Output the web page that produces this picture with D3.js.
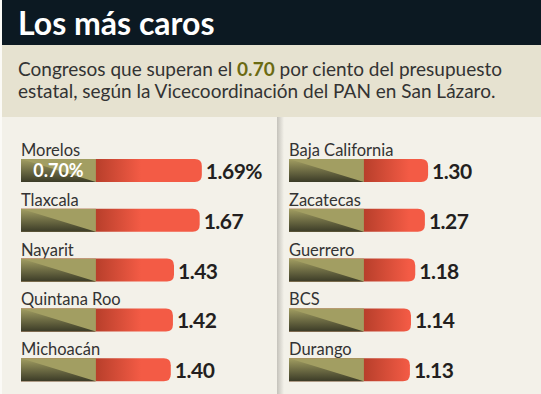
<!DOCTYPE html>
<html><head><meta charset="utf-8">
<script src="https://cdn.jsdelivr.net/npm/d3@7"></script>
<style>body{margin:0;background:#fff}svg{display:block}</style>
</head><body><svg id="c" width="541" height="394"></svg>
<script>
const title = "Los más caros";
const subtitle1a = "Congresos que superan el ", subtitleBold = "0.70", subtitle1b = " por ciento del presupuesto";
const subtitle2 = "estatal, según la Vicecoordinación del PAN en San Lázaro.";
const leftStates = ["Morelos","Tlaxcala","Nayarit","Quintana Roo","Michoacán"];
const leftValues = [1.69,1.67,1.43,1.42,1.40];
const rightStates = ["Baja California","Zacatecas","Guerrero","BCS","Durango"];
const rightValues = [1.30,1.27,1.18,1.14,1.13];
const baseline = 0.70;
const leftLabels = ["1.69%","1.67","1.43","1.42","1.40"];
const rightLabels = ["1.30","1.27","1.18","1.14","1.13"];

const svg = d3.select("#c");
const F = "Lato, 'Open Sans', sans-serif";
const defs = svg.append("defs");
const rg = defs.append("linearGradient").attr("id","red").attr("gradientUnits","userSpaceOnUse")
  .attr("x1",75).attr("x2",120).attr("y1",0).attr("y2",0);
rg.append("stop").attr("offset",0).attr("stop-color","#b83f2b");
rg.append("stop").attr("offset",1).attr("stop-color","#f35b45");
const og = defs.append("linearGradient").attr("id","dark").attr("x1",0).attr("x2",0).attr("y1",0).attr("y2",1);
og.append("stop").attr("offset",0).attr("stop-color","#a29e62");
og.append("stop").attr("offset",1).attr("stop-color","#3b3b27");
const sg = defs.append("linearGradient").attr("id","shadow");
sg.append("stop").attr("offset",0).attr("stop-color","#c4c2bb");
sg.append("stop").attr("offset",1).attr("stop-color","#f3f1e9");

// backgrounds
svg.append("rect").attr("x",0).attr("y",0).attr("width",541).attr("height",394).attr("fill","#f3f1e9");
svg.append("rect").attr("x",0).attr("y",0).attr("width",2).attr("height",394).attr("fill","#fbfaf6");
svg.append("rect").attr("x",2).attr("y",0).attr("width",539).attr("height",45).attr("fill","#0c1922");
svg.append("rect").attr("x",2).attr("y",45).attr("width",539).attr("height",72).attr("fill","#e6e2d0");
svg.append("rect").attr("x",277).attr("y",117).attr("width",7).attr("height",277).attr("fill","url(#shadow)");

svg.append("text").attr("x",18).attr("y",35).attr("fill","#fff").attr("font-family",F)
  .attr("font-weight",700).attr("font-size",32).text(title);
const st = svg.append("text").attr("x",18).attr("y",76).attr("fill","#333").attr("font-family",F).attr("font-size",19);
st.append("tspan").text(subtitle1a);
st.append("tspan").attr("font-weight",700).attr("fill","#6b6a12").text(subtitleBold);
st.append("tspan").text(subtitle1b);
svg.append("text").attr("x",18).attr("y",98).attr("fill","#333").attr("font-family",F).attr("font-size",19).text(subtitle2);

const x = d3.scaleLinear().domain([0,1]).range([0,107]);
const y = d3.scaleBand().domain(d3.range(5)).range([159,408]).paddingInner(0);
const bh = 23, r = 7;

function column(gx, states, values, labels){
  const g = svg.append("g").attr("transform",`translate(${gx},0)`);
  states.forEach((s,i)=>{
    const top = y(i), w = x(values[i]), ow = x(baseline);
    g.append("text").attr("x",0).attr("y",top-3).attr("font-family",F).attr("font-size",16.5)
      .attr("fill","#333").text(s);
    g.append("path").attr("d",`M0,${top}H${w-r}Q${w},${top} ${w},${top+r}V${top+bh-r}Q${w},${top+bh} ${w-r},${top+bh}H0Z`)
      .attr("fill","url(#red)");
    g.append("rect").attr("x",0).attr("y",top).attr("width",ow).attr("height",bh).attr("fill","#a29e62");
    g.append("path").attr("d",`M0,${top}L${ow},${top+bh}L0,${top+bh}Z`).attr("fill","url(#dark)");
    g.append("text").attr("x",w+4).attr("y",top+20).attr("font-family",F).attr("font-weight",700)
      .attr("font-size",21).attr("fill","#231f20").attr("letter-spacing",-0.5).text(labels[i]);
    if(i===0 && gx<100){
      g.append("text").attr("x",ow/2).attr("y",top+18).attr("text-anchor","middle").attr("font-family",F)
        .attr("font-weight",700).attr("font-size",18).attr("fill","#fff").text("0.70%");
    }
  });
}
column(21, leftStates, leftValues, leftLabels);
column(289, rightStates, rightValues, rightLabels);
</script></body></html>
